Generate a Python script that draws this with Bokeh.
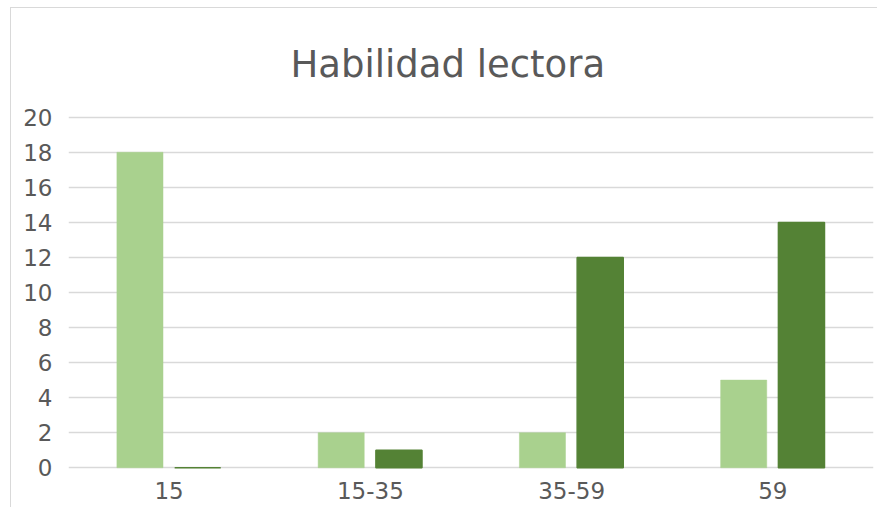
from bokeh.plotting import figure
from bokeh.models import FactorRange, ColumnDataSource, Range1d, FixedTicker
from bokeh.transform import dodge
from bokeh.embed import file_html
from bokeh.resources import INLINE

categories = ["15", "15-35", "35-59", "59"]
serie_1 = [18, 2, 2, 5]
serie_2 = [0, 1, 12, 14]
y_ticks = [0, 2, 4, 6, 8, 10, 12, 14, 16, 18, 20]

color_1 = "#A9D18E"
color_2 = "#548235"
text_color = "#595959"
grid_color = "#D9D9D9"
font = "DejaVu Sans"

src = ColumnDataSource(dict(cat=categories, s1=serie_1, s2=serie_2))

p = figure(x_range=FactorRange(*categories, range_padding=0),
           y_range=Range1d(-0.1, 20.1),
           width=867, height=500,
           output_backend="svg", toolbar_location=None,
           min_border_left=57, min_border_right=5, min_border_top=107, min_border_bottom=39)

p.title.text = "Habilidad lectora"
p.title.align = "left"
p.title.offset = 222
p.title.text_font = font
p.title.text_font_size = "37px"
p.title.text_font_style = "normal"
p.title.text_color = text_color
p.title.standoff = 59

p.vbar(x=dodge("cat", -0.145, range=p.x_range), top="s1", width=0.229, source=src,
       fill_color=color_1, line_color=color_1, line_width=0.5)
p.vbar(x=dodge("cat", 0.142, range=p.x_range), top="s2", width=0.229, source=src,
       fill_color=color_2, line_color=color_2, line_width=1.5)

p.outline_line_color = None
p.background_fill_color = "white"
p.border_fill_color = "white"

p.xgrid.grid_line_color = None
p.ygrid.grid_line_color = grid_color
p.ygrid.grid_line_width = 1.5
p.yaxis.ticker = FixedTicker(ticks=y_ticks)

p.yaxis.axis_line_color = None
p.yaxis.major_tick_line_color = None
p.yaxis.minor_tick_line_color = None
p.yaxis.major_label_standoff = 10
p.yaxis.major_label_text_font = font
p.yaxis.major_label_text_font_size = "23px"
p.yaxis.major_label_text_color = text_color

p.xaxis.axis_line_color = None
p.xaxis.major_tick_line_color = None
p.xaxis.minor_tick_line_color = None
p.xaxis.major_label_standoff = 6
p.xaxis.major_label_text_font = font
p.xaxis.major_label_text_font_size = "23px"
p.xaxis.major_label_text_color = text_color

p.styles = {"margin-left": "10px", "margin-top": "7px",
            "border-left": "1px solid #D9D9D9", "border-top": "1px solid #D9D9D9"}

open("out.html", "w").write(file_html(p, INLINE))
